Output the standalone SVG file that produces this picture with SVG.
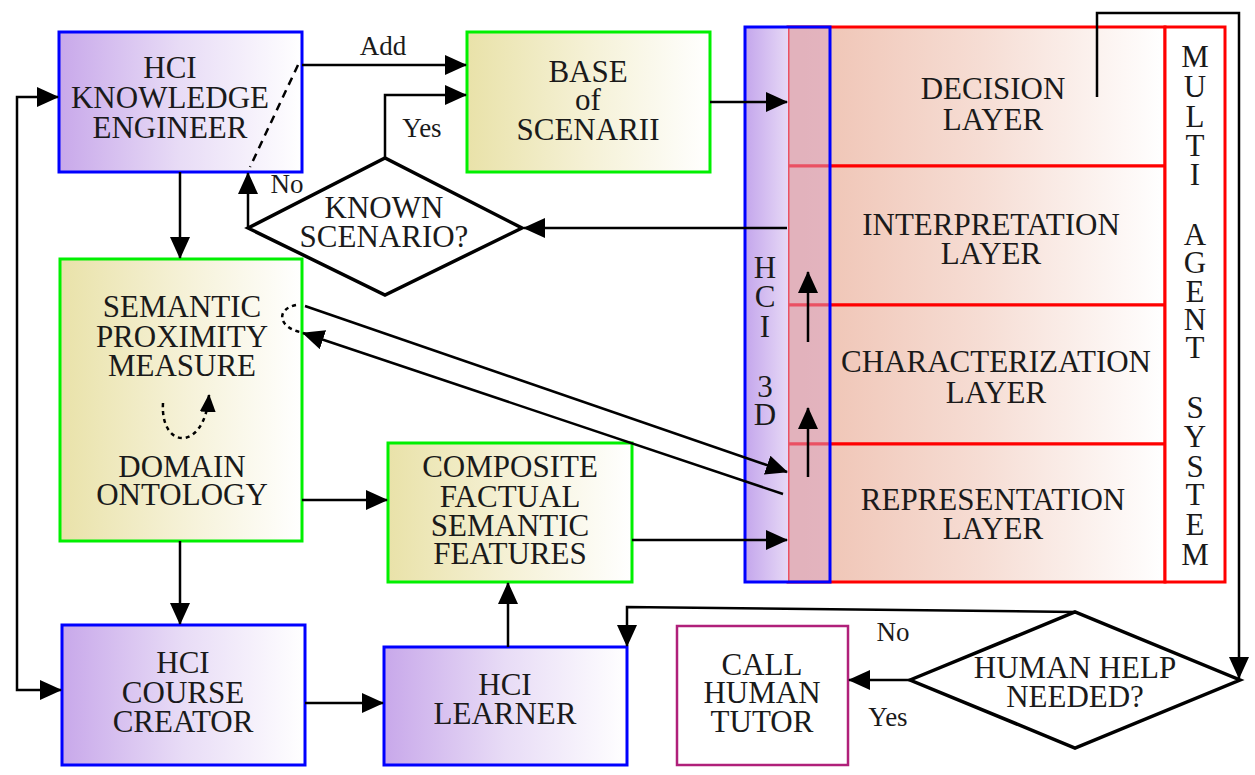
<svg xmlns="http://www.w3.org/2000/svg" width="1255" height="775" viewBox="0 0 1255 775">
<defs>
<linearGradient id="gPurple" x1="0" y1="0" x2="1" y2="0"><stop offset="0" stop-color="#c8a8ea"/><stop offset="0.5" stop-color="#e8dcf6"/><stop offset="1" stop-color="#ffffff"/></linearGradient>
<linearGradient id="gTan" x1="0" y1="0" x2="1" y2="0"><stop offset="0" stop-color="#e9e2a9"/><stop offset="0.5" stop-color="#f5f1d6"/><stop offset="1" stop-color="#ffffff"/></linearGradient>
<linearGradient id="gSalmon" gradientUnits="userSpaceOnUse" x1="800" y1="0" x2="1165" y2="0"><stop offset="0" stop-color="#efc2b2"/><stop offset="0.5" stop-color="#f6ddd4"/><stop offset="1" stop-color="#ffffff"/></linearGradient>
<linearGradient id="gCol" gradientUnits="userSpaceOnUse" x1="745" y1="0" x2="788" y2="0"><stop offset="0" stop-color="#c4a6ec"/><stop offset="1" stop-color="#e6d8f6"/></linearGradient>
<marker id="ah" markerUnits="userSpaceOnUse" markerWidth="22" markerHeight="20" viewBox="0 0 22 20" refX="21" refY="10" orient="auto"><path d="M0,0 L22,10 L0,20 z" fill="#000"/></marker>
<marker id="ahs" markerUnits="userSpaceOnUse" markerWidth="18" markerHeight="16" viewBox="0 0 18 16" refX="17" refY="8" orient="auto"><path d="M0,0 L18,8 L0,16 z" fill="#000"/></marker>
</defs>
<style>
.t{font-family:"Liberation Serif","Times New Roman",serif;font-size:31px;fill:#1a1a1a;text-anchor:middle}
.lb{font-family:"Liberation Serif","Times New Roman",serif;font-size:27px;fill:#1a1a1a;text-anchor:middle}
.pb{fill:url(#gPurple);stroke:#0000ff;stroke-width:3}
.gb{fill:url(#gTan);stroke:#00f000;stroke-width:3}
.ly{fill:url(#gSalmon);stroke:#ff0000;stroke-width:3}
.c{fill:none;stroke:#000;stroke-width:2.5;marker-end:url(#ah)}
.dm{fill:#fff;stroke:#000;stroke-width:3.5}
</style>
<rect width="1255" height="775" fill="#fff"/>

<g id="multi-agent-system">
<rect x="788" y="27" width="377" height="139" class="ly"/>
<rect x="788" y="166" width="377" height="139" class="ly"/>
<rect x="788" y="305" width="377" height="139" class="ly"/>
<rect x="788" y="444" width="377" height="138" class="ly"/>
<rect x="1165" y="27" width="60" height="555" fill="#fff" stroke="#ff0000" stroke-width="3"/>
<text class="t" x="1195"><tspan x="1195" y="67">M</tspan><tspan x="1195" y="97">U</tspan><tspan x="1195" y="127">L</tspan><tspan x="1195" y="156">T</tspan><tspan x="1195" y="185">I</tspan><tspan x="1195" y="245">A</tspan><tspan x="1195" y="273">G</tspan><tspan x="1195" y="302">E</tspan><tspan x="1195" y="330">N</tspan><tspan x="1195" y="358">T</tspan><tspan x="1195" y="418">S</tspan><tspan x="1195" y="447">Y</tspan><tspan x="1195" y="477">S</tspan><tspan x="1195" y="505">T</tspan><tspan x="1195" y="535">E</tspan><tspan x="1195" y="565">M</tspan></text>
</g>
<g id="decision-layer"><text class="t" x="993" y="99">DECISION</text><text class="t" x="993" y="130">LAYER</text></g>
<g id="interpretation-layer"><text class="t" x="991" y="235">INTERPRETATION</text><text class="t" x="991" y="264">LAYER</text></g>
<g id="characterization-layer"><text class="t" x="996" y="372">CHARACTERIZATION</text><text class="t" x="996" y="403">LAYER</text></g>
<g id="representation-layer"><text class="t" x="993" y="510">REPRESENTATION</text><text class="t" x="993" y="539">LAYER</text></g>

<g id="hci-3d">
<rect x="745" y="27" width="43" height="555" fill="url(#gCol)"/>
<rect x="788" y="27" width="42" height="555" fill="#d6a2c6" fill-opacity="0.5"/>
<rect x="745" y="27" width="85" height="555" fill="none" stroke="#0000ff" stroke-width="3"/>
<text class="t" x="765" font-size="28"><tspan x="765" y="278">H</tspan><tspan x="765" y="307">C</tspan><tspan x="765" y="337">I</tspan><tspan x="765" y="397">3</tspan><tspan x="765" y="425">D</tspan></text>
</g>

<g id="hci-knowledge-engineer">
<rect x="59" y="32" width="243" height="140" class="pb"/>
<text class="t" x="170" y="78">HCI</text><text class="t" x="170" y="108">KNOWLEDGE</text><text class="t" x="170" y="138">ENGINEER</text>
</g>
<g id="base-of-scenarii">
<rect x="467" y="32" width="243" height="140" class="gb"/>
<text class="t" x="588" y="82">BASE</text><text class="t" x="588" y="110">of</text><text class="t" x="588" y="140">SCENARII</text>
</g>
<g id="known-scenario">
<polygon points="248,228 385,158 522,228 385,295" class="dm"/>
<text class="t" x="384" y="218">KNOWN</text><text class="t" x="384" y="247">SCENARIO?</text>
</g>
<g id="semantic-proximity-domain-ontology">
<rect x="60" y="259" width="242" height="282" class="gb"/>
<text class="t" x="182" y="317">SEMANTIC</text><text class="t" x="182" y="347">PROXIMITY</text><text class="t" x="182" y="376">MEASURE</text>
<text class="t" x="182" y="477">DOMAIN</text><text class="t" x="182" y="505">ONTOLOGY</text>
</g>
<g id="composite-features">
<rect x="388" y="443" width="244" height="139" class="gb"/>
<text class="t" x="510" y="477">COMPOSITE</text><text class="t" x="510" y="507">FACTUAL</text><text class="t" x="510" y="536">SEMANTIC</text><text class="t" x="510" y="564">FEATURES</text>
</g>
<g id="hci-course-creator">
<rect x="62" y="625" width="243" height="140" class="pb"/>
<text class="t" x="183" y="673">HCI</text><text class="t" x="183" y="703">COURSE</text><text class="t" x="183" y="732">CREATOR</text>
</g>
<g id="hci-learner">
<rect x="384" y="647" width="243" height="118" class="pb"/>
<text class="t" x="505" y="695">HCI</text><text class="t" x="505" y="724">LEARNER</text>
</g>
<g id="call-human-tutor">
<rect x="677" y="626" width="171" height="139" fill="#fff" stroke="#b0207a" stroke-width="2.5"/>
<text class="t" x="762" y="675">CALL</text><text class="t" x="762" y="703">HUMAN</text><text class="t" x="762" y="732">TUTOR</text>
</g>
<g id="human-help-needed">
<polygon points="910,680 1075,612 1240,680 1075,748" class="dm"/>
<text class="t" x="1075" y="678">HUMAN HELP</text><text class="t" x="1075" y="707">NEEDED?</text>
</g>

<g id="connectors">
<path class="c" d="M17,400 V97 H58"/>
<path class="c" d="M17,400 V690 H61"/>
<path class="c" d="M180,172 V258"/>
<path class="c" d="M180,541 V624"/>
<path class="c" d="M302,500 H387"/>
<path class="c" d="M305,703 H383"/>
<path class="c" d="M508,647 V583"/>
<path class="c" d="M632,540 H787"/>
<path class="c" d="M302,65 H466"/>
<path class="c" d="M385,158 V95 H466"/>
<path class="c" d="M248,228 V173"/>
<path class="c" d="M787,228 H524"/>
<path class="c" d="M710,102 H787"/>
<path class="c" d="M305,306 L787,472"/>
<path class="c" d="M783,494 L303,333"/>
<path class="c" d="M808,477 V408"/>
<path class="c" d="M808,342 V272"/>
<path class="c" d="M1097,97 V13 H1239 V678"/>
<path class="c" d="M1075,612 L627,607 V646"/>
<path class="c" d="M910,680 H849"/>
<path d="M298,65 L250,167" fill="none" stroke="#000" stroke-width="2.5" stroke-dasharray="8,6"/>
<path d="M296,305 C276,309 278,327 300,332" fill="none" stroke="#000" stroke-width="2.5" stroke-dasharray="4,4"/>
<path d="M163,403 C160,450 205,452 209,395" fill="none" stroke="#000" stroke-width="2.5" stroke-dasharray="4,4" marker-end="url(#ahs)"/>
<text class="lb" x="383" y="55">Add</text>
<text class="lb" x="422" y="137">Yes</text>
<text class="lb" x="287" y="193">No</text>
<text class="lb" x="893" y="641">No</text>
<text class="lb" x="888" y="726">Yes</text>
</g>
</svg>
